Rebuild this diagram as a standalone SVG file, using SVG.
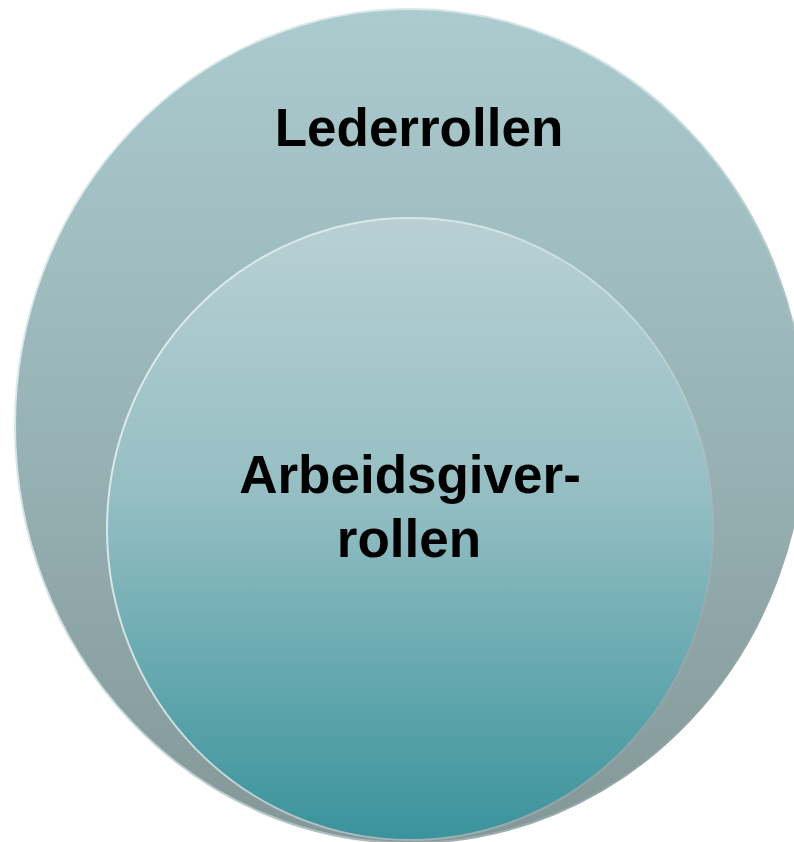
<svg xmlns="http://www.w3.org/2000/svg" width="794" height="842" viewBox="0 0 794 842">
  <defs>
    <linearGradient id="gOuter" x1="0" y1="0" x2="0" y2="1">
      <stop offset="0" stop-color="#abcbce"/>
      <stop offset="0.5" stop-color="#98b3b6"/>
      <stop offset="1" stop-color="#849798"/>
    </linearGradient>
    <linearGradient id="gInner" x1="0" y1="0" x2="0" y2="1">
      <stop offset="0" stop-color="#b9d0d4"/>
      <stop offset="0.45" stop-color="#94bec3"/>
      <stop offset="1" stop-color="#3a939c"/>
    </linearGradient>
    <linearGradient id="gRim" x1="0" y1="0" x2="1" y2="1">
      <stop offset="0" stop-color="#e6f2f3"/>
      <stop offset="0.5" stop-color="#c8dcde"/>
      <stop offset="1" stop-color="#7c8c8d"/>
    </linearGradient>
    <style>
      .label { font-family: "Liberation Sans", Arial, sans-serif; font-weight: bold; font-size: 53px; fill: #000; text-anchor: middle; }
    </style>
  </defs>
  <rect width="794" height="842" fill="#ffffff"/>
  <g id="outer">
    <ellipse cx="410" cy="426" rx="395" ry="417" fill="url(#gOuter)" stroke="url(#gRim)" stroke-width="2"/>
    <text class="label" x="419" y="146">Lederrollen</text>
  </g>
  <g id="inner">
    <ellipse cx="410" cy="529" rx="303" ry="311" fill="url(#gInner)" stroke="url(#gRim)" stroke-width="2"/>
    <text class="label" x="410" y="493">Arbeidsgiver-</text>
    <text class="label" x="409" y="557">rollen</text>
  </g>
  <g id="connectors"/>
</svg>
